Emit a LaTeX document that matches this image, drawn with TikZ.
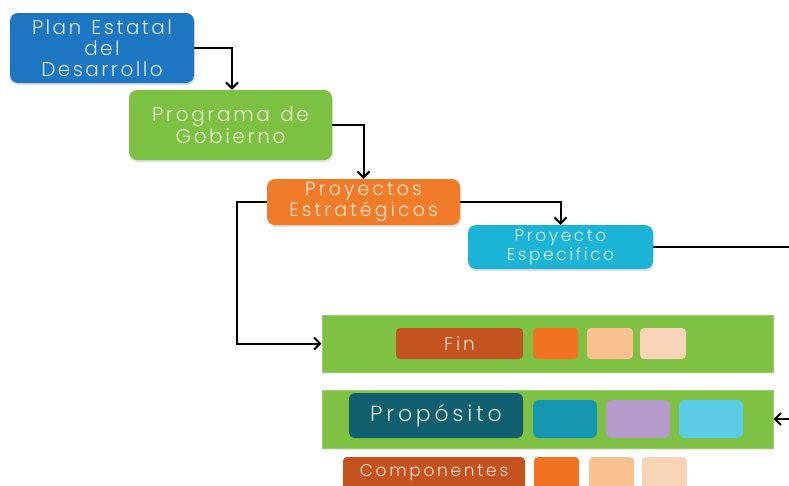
\documentclass[tikz,border=0pt]{standalone}
\usepackage{fontspec}
\setmainfont{Poppins}[UprightFont=* Light, WordSpace=1.3]
\usetikzlibrary{arrows.meta,shadows}
\definecolor{cblue}{HTML}{1C76C2}
\definecolor{cgreen}{HTML}{7CC142}
\definecolor{corange}{HTML}{F07C2A}
\definecolor{ccyan}{HTML}{1BB3D6}
\definecolor{cbar}{HTML}{7EC143}
\definecolor{cbarline}{HTML}{9BCB6A}
\definecolor{cdkorange}{HTML}{C4531F}
\definecolor{corsq}{HTML}{F27222}
\definecolor{cpeach}{HTML}{F9C18F}
\definecolor{cpeachl}{HTML}{FAD4B6}
\definecolor{cteal}{HTML}{0F5F6F}
\definecolor{ctealsq}{HTML}{1597B2}
\definecolor{clav}{HTML}{B59BC9}
\definecolor{clcyan}{HTML}{5DCCE6}
\definecolor{ctext}{HTML}{F6F1E4}
\newcommand{\fnt}[3]{\fontsize{#1}{#2}\selectfont\addfontfeature{LetterSpace=#3}}
\tikzset{
  mainbox/.style={rectangle, rounded corners=8pt, text=ctext, text opacity=0.9, align=center, inner sep=0pt,
    drop shadow={shadow xshift=1pt, shadow yshift=-2pt, opacity=0.25}},
  bar/.style={rectangle, fill=cbar, draw=cbarline, line width=1pt, inner sep=0pt,
    drop shadow={shadow xshift=0pt, shadow yshift=-2pt, opacity=0.2}},
  smallbox/.style={rectangle, rounded corners=4pt, inner sep=0pt, text=ctext, text opacity=0.9},
  conn/.style={line width=2pt, black},
  arr/.style={conn, -{Straight Barb[length=6pt,width=12pt,line width=2pt]}},
}
\begin{document}
\begin{tikzpicture}[x=1pt,y=-1pt]
\useasboundingbox (0,0) rectangle (789,485);
\clip (0,0) rectangle (789,485);
% main boxes
\node[mainbox, fill=cblue, minimum width=184pt, minimum height=70pt, font=\fnt{20}{21}{12}] (plan) at (102,48) {Plan Estatal\\del\\Desarrollo};
\node[mainbox, fill=cgreen, minimum width=203pt, minimum height=70pt, font=\fnt{20}{22}{13}] (prog) at (230.5,125) {Programa de\\Gobierno};
\node[mainbox, fill=corange, minimum width=193pt, minimum height=46pt, font=\fnt{19}{21}{16}] (pest) at (363.5,202) {Proyectos\\Estratégicos};
\node[mainbox, fill=ccyan, minimum width=185pt, minimum height=44pt, font=\fnt{17}{19}{15}] (pesp) at (560.5,247) {Proyecto\\Especifico};
% bars
\node[bar, minimum width=451pt, minimum height=57pt] (finbar) at (547.5,343.5) {};
\node[bar, minimum width=451pt, minimum height=58pt] (propbar) at (547.5,419) {};
% Fin row
\node[smallbox, fill=cdkorange, minimum width=127pt, minimum height=31pt, font=\fnt{18.5}{20}{15}] (fin) at (459.5,343.5) {Fin};
\node[smallbox, fill=corsq, minimum width=45pt, minimum height=31pt] (f1) at (555.5,343.5) {};
\node[smallbox, fill=cpeach, minimum width=46pt, minimum height=31pt] (f2) at (610,343.5) {};
\node[smallbox, fill=cpeachl, minimum width=46pt, minimum height=31pt] (f3) at (663,343.5) {};
% Proposito row
\node[smallbox, rounded corners=6pt, fill=cteal, minimum width=174pt, minimum height=45pt, font=\fnt{22}{24}{17}] (prop) at (436,415.5) {Propósito};
\node[smallbox, rounded corners=6pt, fill=ctealsq, minimum width=64pt, minimum height=38pt] (p1) at (565,419) {};
\node[smallbox, rounded corners=6pt, fill=clav, minimum width=64pt, minimum height=38pt] (p2) at (638,419) {};
\node[smallbox, rounded corners=6pt, fill=clcyan, minimum width=64pt, minimum height=38pt] (p3) at (711,419) {};
% Componentes row
\node[smallbox, fill=cdkorange, minimum width=182pt, minimum height=44pt] (comp) at (434,479) {};
\node[font=\fnt{17}{20}{16}, text=ctext, text opacity=0.9, inner sep=0pt] (comptext) at (434,472.5) {Componentes};
\node[smallbox, fill=corsq, minimum width=45pt, minimum height=44pt] (c1) at (556.5,479) {};
\node[smallbox, fill=cpeach, minimum width=45pt, minimum height=44pt] (c2) at (611.5,479) {};
\node[smallbox, fill=cpeachl, minimum width=45pt, minimum height=44pt] (c3) at (664.5,479) {};
% connectors
\coordinate (rightA) at (789,247);
\coordinate (rightB) at (789,419);
\draw[arr] (plan.east) -| ([xshift=1.5pt]prog.north);
\draw[arr] (prog.east) -| (pest.north);
\draw[arr] (pest.east) -| (pesp.north);
\draw[arr] (pest.west) -- ++(-30,0) |- (finbar.west);
\draw[conn] (pesp.east) -- (rightA);
\draw[arr] (rightB) -- (propbar.east);
\end{tikzpicture}
\end{document}
